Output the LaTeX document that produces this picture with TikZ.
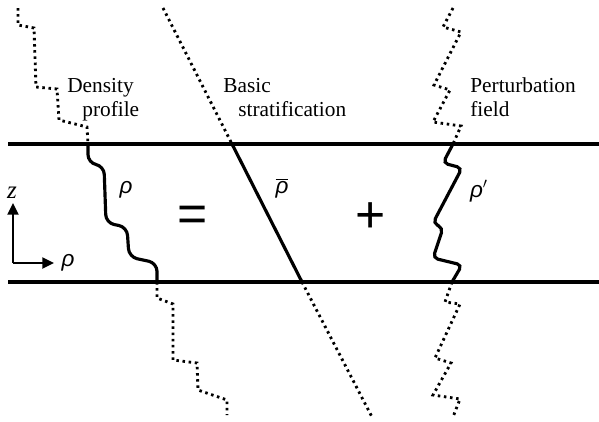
\documentclass[tikz,border=0pt]{standalone}
\usepackage{fontspec}
\setmainfont{Liberation Serif}
\newfontfamily\sansfont{Liberation Sans}
\newcommand{\rh}{{\sansfont\itshape ρ}}
\usetikzlibrary{arrows.meta}
\tikzset{
  layer/.style={line width=2.1pt},
  prof/.style={line width=1.9pt},
  dots/.style={line width=1.7pt, dash pattern=on 1.5pt off 2.2pt},
  lbl/.style={anchor=base west, inner sep=0pt, font=\fontsize{12.8}{15}\selectfont},
  sym/.style={inner sep=0pt, font=\fontsize{13.5}{15}\selectfont},
  op/.style={inner sep=0pt, font=\sansfont\fontsize{31}{31}\selectfont}
}
\begin{document}
\begin{tikzpicture}[x=0.6pt, y=-0.6pt]
  \useasboundingbox (0,0) rectangle (599,421);
  % layer boundaries
  \coordinate (tl) at (8,144);  \coordinate (tr) at (599,144);
  \coordinate (bl) at (8,282);  \coordinate (br) at (599,282);
  \draw[layer] (tl) -- (tr);
  \draw[layer] (bl) -- (br);
  % density profile
  \coordinate (dtop) at (88,144); \coordinate (dbot) at (157,282);
  \draw[dots] (18,8) -- (18,25) -- (34,28) -- (36,87) -- (57,89) -- (59,120) -- (87,127) -- (dtop);
  \draw[prof, rounded corners=5] (dtop) -- (88,163) -- (104,166) -- (106,223) -- (127,227) -- (129,257) -- (157,263) -- (dbot);
  \draw[dots] (dbot) -- (157,298) -- (173,304) -- (173,360) -- (197,363) -- (198,390) -- (227,400) -- (227,415);
  % basic stratification
  \coordinate (btop) at (232,144); \coordinate (bbot) at (302,282);
  \draw[dots] (163,8) -- (btop);
  \draw[prof] (btop) -- (bbot);
  \draw[dots] (bbot) -- (372,417);
  % perturbation field
  \coordinate (ptop) at (453,144); \coordinate (pbot) at (452,282);
  \draw[dots] (453,8) -- (443,27) -- (461,32) -- (434,85) -- (450,90) -- (433,122) -- (461,126) -- (ptop);
  \draw[prof, rounded corners=3] (ptop) -- (443,163) -- (462,168) -- (433,223) -- (443,228) -- (433,258) -- (462,265) -- (pbot);
  \draw[dots] (pbot) -- (445,302) -- (460,304) -- (435,358) -- (451,363) -- (433,395) -- (460,399) -- (453,417);
  % titles
  \node[lbl] (dens1) at (67,92) {Density};
  \node[lbl] (dens2) at (82,116) {profile};
  \node[lbl] (basic1) at (223,92) {Basic};
  \node[lbl] (basic2) at (238,116) {stratification};
  \node[lbl] (pert1) at (470,92) {Perturbation};
  \node[lbl] (pert2) at (470,116) {field};
  % symbols
  \node[sym] (rho) at (126,190) {\rh};
  \node[sym] (rhobar) at (282,188) {$\overline{\hbox{\rh}}$};
  \node[sym] (rhop) at (479,191) {\rh$'$};
  \node[op] (eq) at (193,219) {=};
  \node[op] (plus) at (371,218) {+};
  % axes
  \coordinate (o) at (13,263);
  \draw[line width=1.6pt, -{Triangle[length=7pt,width=6.5pt]}] (o) -- (13,203);
  \draw[line width=1.6pt, -{Triangle[length=7pt,width=6.5pt]}] (o) -- (54,263);
  \node[sym, font=\fontsize{15}{15}\selectfont\itshape] (zlbl) at (12,193) {z};
  \node[sym] (rholbl) at (68,263) {\rh};
\end{tikzpicture}
\end{document}
